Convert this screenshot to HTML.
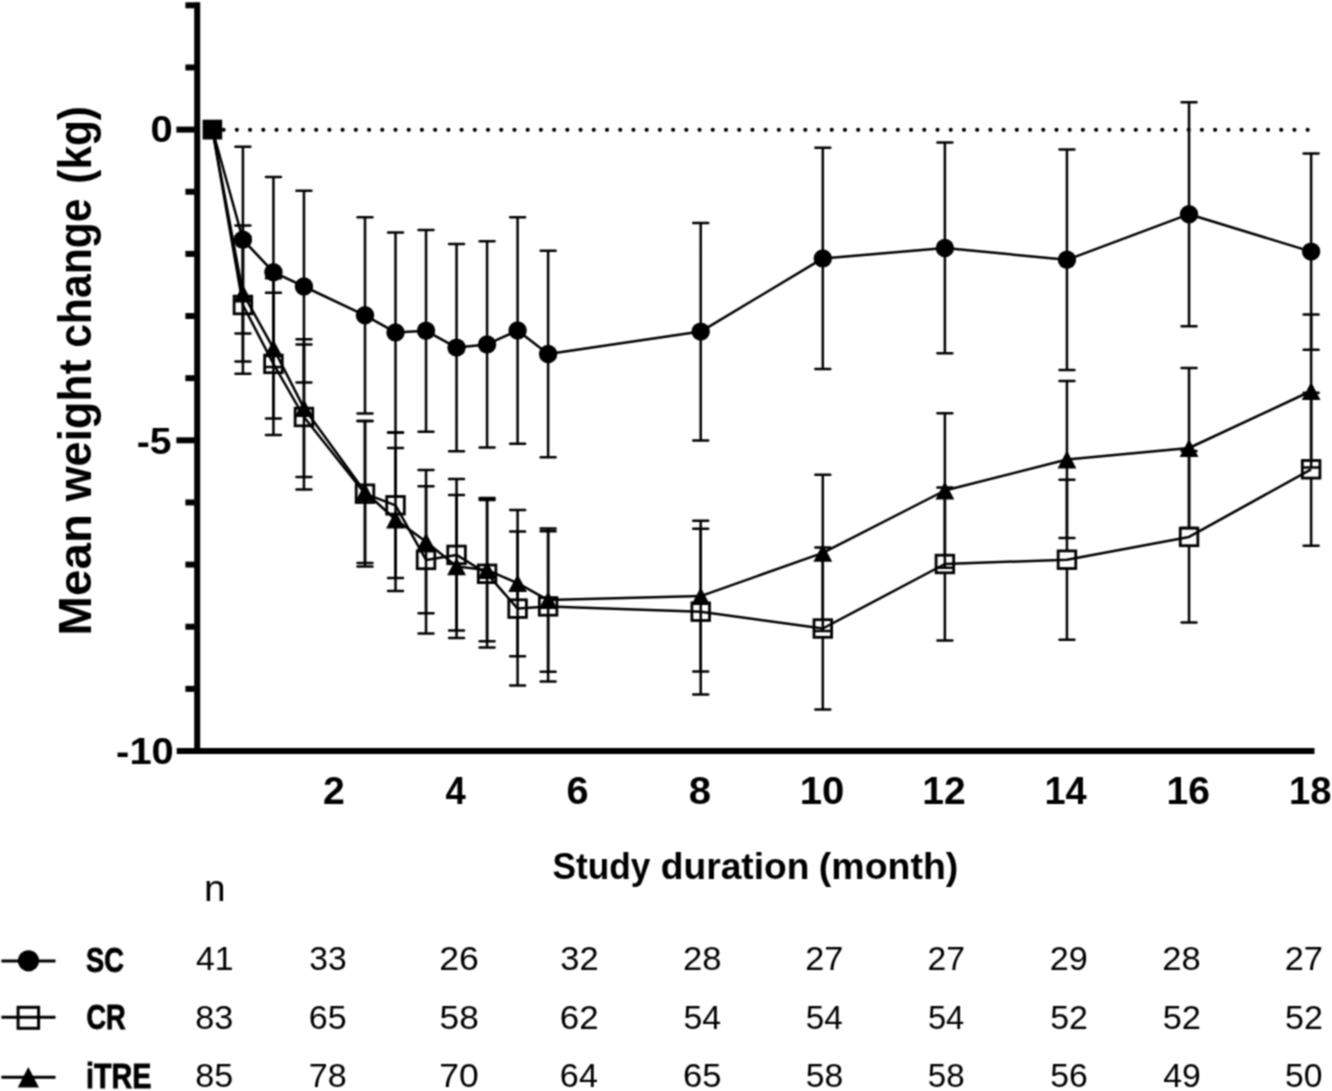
<!DOCTYPE html>
<html><head><meta charset="utf-8"><title>Mean weight change</title>
<style>html,body{margin:0;padding:0;background:#fff;}svg{display:block;filter:grayscale(1);}text{font-family:"Liberation Sans",sans-serif;fill:#000;}</style>
</head><body>
<svg width="1332" height="1091" viewBox="0 0 1332 1091">
<rect x="0" y="0" width="1332" height="1091" fill="#fff"/>
<defs><filter id="soft" x="0" y="0" width="1332" height="1091" filterUnits="userSpaceOnUse" color-interpolation-filters="sRGB"><feConvolveMatrix order="3" kernelMatrix="1 2 1 2 4 2 1 2 1" divisor="16" edgeMode="duplicate"/></filter></defs>
<g filter="url(#soft)">
<rect x="194.2" y="2.2" width="6" height="751.8" fill="#000"/>
<rect x="176.7" y="748" width="1137.8" height="6" fill="#000"/>
<rect x="185.4" y="2.32" width="9.3" height="6" fill="#000"/>
<rect x="185.4" y="64.46" width="9.3" height="6" fill="#000"/>
<rect x="176.4" y="126.6" width="18.3" height="6" fill="#000"/>
<rect x="185.4" y="188.74" width="9.3" height="6" fill="#000"/>
<rect x="185.4" y="250.88" width="9.3" height="6" fill="#000"/>
<rect x="185.4" y="313.02" width="9.3" height="6" fill="#000"/>
<rect x="185.4" y="375.16" width="9.3" height="6" fill="#000"/>
<rect x="176.4" y="437.3" width="18.3" height="6" fill="#000"/>
<rect x="185.4" y="499.44" width="9.3" height="6" fill="#000"/>
<rect x="185.4" y="561.58" width="9.3" height="6" fill="#000"/>
<rect x="185.4" y="623.72" width="9.3" height="6" fill="#000"/>
<rect x="185.4" y="685.86" width="9.3" height="6" fill="#000"/>
<text x="150.6" y="142.4" font-size="37" font-weight="bold" textLength="22.25" lengthAdjust="spacingAndGlyphs">0</text>
<text x="136.77" y="454" font-size="37" font-weight="bold" textLength="34.83" lengthAdjust="spacingAndGlyphs">-5</text>
<text x="116.14" y="763.7" font-size="37" font-weight="bold" textLength="57.71" lengthAdjust="spacingAndGlyphs">-10</text>
<text x="322.92" y="803.6" font-size="38" font-weight="bold" textLength="21.85" lengthAdjust="spacingAndGlyphs">2</text>
<text x="445.45" y="803.6" font-size="38" font-weight="bold" textLength="20.23" lengthAdjust="spacingAndGlyphs">4</text>
<text x="566.53" y="803.6" font-size="38" font-weight="bold" textLength="22.11" lengthAdjust="spacingAndGlyphs">6</text>
<text x="688.81" y="803.6" font-size="38" font-weight="bold" textLength="22.34" lengthAdjust="spacingAndGlyphs">8</text>
<text x="799.77" y="803.6" font-size="38" font-weight="bold" textLength="44.69" lengthAdjust="spacingAndGlyphs">10</text>
<text x="922.34" y="803.6" font-size="38" font-weight="bold" textLength="43.43" lengthAdjust="spacingAndGlyphs">12</text>
<text x="1044.4" y="803.6" font-size="38" font-weight="bold" textLength="42.3" lengthAdjust="spacingAndGlyphs">14</text>
<text x="1166.64" y="803.6" font-size="38" font-weight="bold" textLength="43.48" lengthAdjust="spacingAndGlyphs">16</text>
<text x="1288.99" y="803.6" font-size="38" font-weight="bold" textLength="42.5" lengthAdjust="spacingAndGlyphs">18</text>
<text x="552.58" y="878.8" font-size="37.5" font-weight="bold" textLength="97.89" lengthAdjust="spacingAndGlyphs">Study</text>
<text x="660.78" y="878.8" font-size="37.5" font-weight="bold" textLength="148.71" lengthAdjust="spacingAndGlyphs">duration</text>
<text x="818.83" y="878.8" font-size="37.5" font-weight="bold" textLength="139.44" lengthAdjust="spacingAndGlyphs">(month)</text>
<text transform="translate(90.7,635.69) rotate(-90)" x="0" y="0" font-size="47" font-weight="bold" textLength="121.65" lengthAdjust="spacingAndGlyphs">Mean</text>
<text transform="translate(90.7,501.27) rotate(-90)" x="0" y="0" font-size="47" font-weight="bold" textLength="141.88" lengthAdjust="spacingAndGlyphs">weight</text>
<text transform="translate(90.7,347.86) rotate(-90)" x="0" y="0" font-size="47" font-weight="bold" textLength="149.31" lengthAdjust="spacingAndGlyphs">change</text>
<text transform="translate(90.7,183.72) rotate(-90)" x="0" y="0" font-size="47" font-weight="bold" textLength="77.64" lengthAdjust="spacingAndGlyphs">(kg)</text>
<line x1="210.4" y1="129.8" x2="1309" y2="129.8" stroke="#000" stroke-width="4.2" stroke-linecap="round" stroke-dasharray="0 13.22"/>
<path d="M242.92 146.8V239.7M242.92 239.7V333.5M273.44 177V272.2M273.44 272.2V367M303.96 190.7V286.5M303.96 286.5V382.5M365 217.2V315.3M365 315.3V413.4M395.52 232.6V332.4M395.52 332.4V432.6M426.04 229.9V330.8M426.04 330.8V431.8M456.56 244V347.6M456.56 347.6V451.3M487.08 241.2V344.4M487.08 344.4V447.6M517.6 217.3V330.5M517.6 330.5V443.8M548.12 250.8V354M548.12 354V457.3M700.72 222.9V331.6M700.72 331.6V440.4M822.8 147.7V258.4M822.8 258.4V369M944.88 142.6V248M944.88 248V353.3M1066.96 149.5V259.8M1066.96 259.8V370M1189.04 102.2V214.2M1189.04 214.2V326.2M1311.12 153.4V251.6M1311.12 251.6V349.7" stroke="#000" stroke-width="2.5" fill="none"/><path d="M235.42 146.8H250.42M235.42 333.5H250.42M265.94 177H280.94M265.94 367H280.94M296.46 190.7H311.46M296.46 382.5H311.46M357.5 217.2H372.5M357.5 413.4H372.5M388.02 232.6H403.02M388.02 432.6H403.02M418.54 229.9H433.54M418.54 431.8H433.54M449.06 244H464.06M449.06 451.3H464.06M479.58 241.2H494.58M479.58 447.6H494.58M510.1 217.3H525.1M510.1 443.8H525.1M540.62 250.8H555.62M540.62 457.3H555.62M693.22 222.9H708.22M693.22 440.4H708.22M815.3 147.7H830.3M815.3 369H830.3M937.38 142.6H952.38M937.38 353.3H952.38M1059.46 149.5H1074.46M1059.46 370H1074.46M1181.54 102.2H1196.54M1181.54 326.2H1196.54M1303.62 153.4H1318.62M1303.62 349.7H1318.62" stroke="#000" stroke-width="2.5" stroke-linecap="round" fill="none"/>
<polyline points="212.4,129.5 242.92,239.7 273.44,272.2 303.96,286.5 365,315.3 395.52,332.4 426.04,330.8 456.56,347.6 487.08,344.4 517.6,330.5 548.12,354 700.72,331.6 822.8,258.4 944.88,248 1066.96,259.8 1189.04,214.2 1311.12,251.6" stroke="#000" stroke-width="2.5" fill="none" stroke-linejoin="round"/>
<circle cx="242.92" cy="239.7" r="9.2" fill="#000"/><circle cx="273.44" cy="272.2" r="9.2" fill="#000"/><circle cx="303.96" cy="286.5" r="9.2" fill="#000"/><circle cx="365" cy="315.3" r="9.2" fill="#000"/><circle cx="395.52" cy="332.4" r="9.2" fill="#000"/><circle cx="426.04" cy="330.8" r="9.2" fill="#000"/><circle cx="456.56" cy="347.6" r="9.2" fill="#000"/><circle cx="487.08" cy="344.4" r="9.2" fill="#000"/><circle cx="517.6" cy="330.5" r="9.2" fill="#000"/><circle cx="548.12" cy="354" r="9.2" fill="#000"/><circle cx="700.72" cy="331.6" r="9.2" fill="#000"/><circle cx="822.8" cy="258.4" r="9.2" fill="#000"/><circle cx="944.88" cy="248" r="9.2" fill="#000"/><circle cx="1066.96" cy="259.8" r="9.2" fill="#000"/><circle cx="1189.04" cy="214.2" r="9.2" fill="#000"/><circle cx="1311.12" cy="251.6" r="9.2" fill="#000"/>
<path d="M242.92 236.2V296.2M242.92 313.8V373.8M273.44 292.8V355.1M273.44 372.7V435M303.96 344.5V408.2M303.96 425.8V489.4M365 420.9V484.9M365 502.5V566.5M395.52 432.5V496.5M395.52 514.1V578.1M426.04 486.2V551.1M426.04 568.7V633.5M456.56 479.1V546.1M456.56 563.7V630.6M487.08 500V565M487.08 582.6V647.6M517.6 531.5V599.8M517.6 617.4V685.6M548.12 531.2V597.6M548.12 615.2V681.5M700.72 528.8V602.9M700.72 620.5V694.6M822.8 547.6V619.7M822.8 637.3V709.5M944.88 487.6V555.2M944.88 572.8V640.5M1066.96 479.7V550.9M1066.96 568.5V639.7M1189.04 451V528.1M1189.04 545.7V622.6M1311.12 392.8V460.5M1311.12 478.1V545.8" stroke="#000" stroke-width="2.5" fill="none"/><path d="M235.42 236.2H250.42M235.42 373.8H250.42M265.94 292.8H280.94M265.94 435H280.94M296.46 344.5H311.46M296.46 489.4H311.46M357.5 420.9H372.5M357.5 566.5H372.5M388.02 432.5H403.02M388.02 578.1H403.02M418.54 486.2H433.54M418.54 633.5H433.54M449.06 479.1H464.06M449.06 630.6H464.06M479.58 500H494.58M479.58 647.6H494.58M510.1 531.5H525.1M510.1 685.6H525.1M540.62 531.2H555.62M540.62 681.5H555.62M693.22 528.8H708.22M693.22 694.6H708.22M815.3 547.6H830.3M815.3 709.5H830.3M937.38 487.6H952.38M937.38 640.5H952.38M1059.46 479.7H1074.46M1059.46 639.7H1074.46M1181.54 451H1196.54M1181.54 622.6H1196.54M1303.62 392.8H1318.62M1303.62 545.8H1318.62" stroke="#000" stroke-width="2.5" stroke-linecap="round" fill="none"/>
<polyline points="212.4,129.5 242.92,305 273.44,363.9 303.96,417 365,493.7 395.52,505.3 426.04,559.9 456.56,554.9 487.08,573.8 517.6,608.6 548.12,606.4 700.72,611.7 822.8,628.5 944.88,564 1066.96,559.7 1189.04,536.9 1311.12,469.3" stroke="#000" stroke-width="2.5" fill="none" stroke-linejoin="round"/>
<rect x="234.12" y="296.2" width="17.6" height="17.6" fill="none" stroke="#000" stroke-width="2.8"/><rect x="264.64" y="355.1" width="17.6" height="17.6" fill="none" stroke="#000" stroke-width="2.8"/><rect x="295.16" y="408.2" width="17.6" height="17.6" fill="none" stroke="#000" stroke-width="2.8"/><rect x="356.2" y="484.9" width="17.6" height="17.6" fill="none" stroke="#000" stroke-width="2.8"/><rect x="386.72" y="496.5" width="17.6" height="17.6" fill="none" stroke="#000" stroke-width="2.8"/><rect x="417.24" y="551.1" width="17.6" height="17.6" fill="none" stroke="#000" stroke-width="2.8"/><rect x="447.76" y="546.1" width="17.6" height="17.6" fill="none" stroke="#000" stroke-width="2.8"/><rect x="478.28" y="565" width="17.6" height="17.6" fill="none" stroke="#000" stroke-width="2.8"/><rect x="508.8" y="599.8" width="17.6" height="17.6" fill="none" stroke="#000" stroke-width="2.8"/><rect x="539.32" y="597.6" width="17.6" height="17.6" fill="none" stroke="#000" stroke-width="2.8"/><rect x="691.92" y="602.9" width="17.6" height="17.6" fill="none" stroke="#000" stroke-width="2.8"/><rect x="814" y="619.7" width="17.6" height="17.6" fill="none" stroke="#000" stroke-width="2.8"/><rect x="936.08" y="555.2" width="17.6" height="17.6" fill="none" stroke="#000" stroke-width="2.8"/><rect x="1058.16" y="550.9" width="17.6" height="17.6" fill="none" stroke="#000" stroke-width="2.8"/><rect x="1180.24" y="528.1" width="17.6" height="17.6" fill="none" stroke="#000" stroke-width="2.8"/><rect x="1302.32" y="460.5" width="17.6" height="17.6" fill="none" stroke="#000" stroke-width="2.8"/>
<path d="M242.92 225.5V293.5M242.92 293.5V361.4M273.44 278.2V348.3M273.44 348.3V418.5M303.96 339.2V408.1M303.96 408.1V477M365 421V492M365 492V563M395.52 448V519.5M395.52 519.5V591M426.04 470.1V541.7M426.04 541.7V613.3M456.56 494.9V566.4M456.56 566.4V637.9M487.08 498V570M487.08 570V641.2M517.6 510.1V583.2M517.6 583.2V656.2M548.12 528.4V600.1M548.12 600.1V671.8M700.72 520.8V596.1M700.72 596.1V671.4M822.8 474.8V552.9M822.8 552.9V631M944.88 413.3V490.5M944.88 490.5V567.7M1066.96 381V459.5M1066.96 459.5V538M1189.04 368.1V448M1189.04 448V528M1311.12 314.6V391M1311.12 391V467.4" stroke="#000" stroke-width="2.5" fill="none"/><path d="M235.42 225.5H250.42M235.42 361.4H250.42M265.94 278.2H280.94M265.94 418.5H280.94M296.46 339.2H311.46M296.46 477H311.46M357.5 421H372.5M357.5 563H372.5M388.02 448H403.02M388.02 591H403.02M418.54 470.1H433.54M418.54 613.3H433.54M449.06 494.9H464.06M449.06 637.9H464.06M479.58 498H494.58M479.58 641.2H494.58M510.1 510.1H525.1M510.1 656.2H525.1M540.62 528.4H555.62M540.62 671.8H555.62M693.22 520.8H708.22M693.22 671.4H708.22M815.3 474.8H830.3M815.3 631H830.3M937.38 413.3H952.38M937.38 567.7H952.38M1059.46 381H1074.46M1059.46 538H1074.46M1181.54 368.1H1196.54M1181.54 528H1196.54M1303.62 314.6H1318.62M1303.62 467.4H1318.62" stroke="#000" stroke-width="2.5" stroke-linecap="round" fill="none"/>
<polyline points="212.4,129.5 242.92,293.5 273.44,348.3 303.96,408.1 365,492 395.52,519.5 426.04,541.7 456.56,566.4 487.08,570 517.6,583.2 548.12,600.1 700.72,596.1 822.8,552.9 944.88,490.5 1066.96,459.5 1189.04,448 1311.12,391" stroke="#000" stroke-width="2.5" fill="none" stroke-linejoin="round"/>
<path d="M242.92 284.6L252.32 302.4L233.52 302.4Z" fill="#000"/><path d="M273.44 339.4L282.84 357.2L264.04 357.2Z" fill="#000"/><path d="M303.96 399.2L313.36 417L294.56 417Z" fill="#000"/><path d="M365 483.1L374.4 500.9L355.6 500.9Z" fill="#000"/><path d="M395.52 510.6L404.92 528.4L386.12 528.4Z" fill="#000"/><path d="M426.04 532.8L435.44 550.6L416.64 550.6Z" fill="#000"/><path d="M456.56 557.5L465.96 575.3L447.16 575.3Z" fill="#000"/><path d="M487.08 561.1L496.48 578.9L477.68 578.9Z" fill="#000"/><path d="M517.6 574.3L527 592.1L508.2 592.1Z" fill="#000"/><path d="M548.12 591.2L557.52 609L538.72 609Z" fill="#000"/><path d="M700.72 587.2L710.12 605L691.32 605Z" fill="#000"/><path d="M822.8 544L832.2 561.8L813.4 561.8Z" fill="#000"/><path d="M944.88 481.6L954.28 499.4L935.48 499.4Z" fill="#000"/><path d="M1066.96 450.6L1076.36 468.4L1057.56 468.4Z" fill="#000"/><path d="M1189.04 439.1L1198.44 456.9L1179.64 456.9Z" fill="#000"/><path d="M1311.12 382.1L1320.52 399.9L1301.72 399.9Z" fill="#000"/>
<rect x="202.6" y="119.7" width="19.6" height="19.8" fill="#000"/>
<text x="203.94" y="900.5" font-size="36" textLength="21.59" lengthAdjust="spacingAndGlyphs">n</text>
<text x="196.02" y="969.5" font-size="34" textLength="37.54" lengthAdjust="spacingAndGlyphs">41</text>
<text x="309.22" y="969.5" font-size="34" textLength="37.47" lengthAdjust="spacingAndGlyphs">33</text>
<text x="439.22" y="969.5" font-size="34" textLength="39.66" lengthAdjust="spacingAndGlyphs">26</text>
<text x="560.29" y="969.5" font-size="34" textLength="38.34" lengthAdjust="spacingAndGlyphs">32</text>
<text x="683.07" y="969.5" font-size="34" textLength="38.53" lengthAdjust="spacingAndGlyphs">28</text>
<text x="805.29" y="969.5" font-size="34" textLength="38.14" lengthAdjust="spacingAndGlyphs">27</text>
<text x="927.52" y="969.5" font-size="34" textLength="37.48" lengthAdjust="spacingAndGlyphs">27</text>
<text x="1049.79" y="969.5" font-size="34" textLength="38.03" lengthAdjust="spacingAndGlyphs">29</text>
<text x="1162.37" y="969.5" font-size="34" textLength="38.42" lengthAdjust="spacingAndGlyphs">28</text>
<text x="1284.68" y="969.5" font-size="34" textLength="38.25" lengthAdjust="spacingAndGlyphs">27</text>
<text x="195.33" y="1028.5" font-size="34" textLength="38.09" lengthAdjust="spacingAndGlyphs">83</text>
<text x="308.76" y="1028.5" font-size="34" textLength="37.88" lengthAdjust="spacingAndGlyphs">65</text>
<text x="439.59" y="1028.5" font-size="34" textLength="39.24" lengthAdjust="spacingAndGlyphs">58</text>
<text x="559.82" y="1028.5" font-size="34" textLength="38.84" lengthAdjust="spacingAndGlyphs">62</text>
<text x="683.45" y="1028.5" font-size="34" textLength="37.65" lengthAdjust="spacingAndGlyphs">54</text>
<text x="805.67" y="1028.5" font-size="34" textLength="37.01" lengthAdjust="spacingAndGlyphs">54</text>
<text x="927.89" y="1028.5" font-size="34" textLength="36.37" lengthAdjust="spacingAndGlyphs">54</text>
<text x="1050.14" y="1028.5" font-size="34" textLength="37.77" lengthAdjust="spacingAndGlyphs">52</text>
<text x="1162.72" y="1028.5" font-size="34" textLength="38.31" lengthAdjust="spacingAndGlyphs">52</text>
<text x="1285.04" y="1028.5" font-size="34" textLength="37.88" lengthAdjust="spacingAndGlyphs">52</text>
<text x="195.33" y="1087.4" font-size="34" textLength="38.02" lengthAdjust="spacingAndGlyphs">85</text>
<text x="308.76" y="1087.4" font-size="34" textLength="37.91" lengthAdjust="spacingAndGlyphs">78</text>
<text x="439.19" y="1087.4" font-size="34" textLength="39.51" lengthAdjust="spacingAndGlyphs">70</text>
<text x="559.86" y="1087.4" font-size="34" textLength="38.05" lengthAdjust="spacingAndGlyphs">64</text>
<text x="683.03" y="1087.4" font-size="34" textLength="38.53" lengthAdjust="spacingAndGlyphs">65</text>
<text x="805.65" y="1087.4" font-size="34" textLength="37.51" lengthAdjust="spacingAndGlyphs">58</text>
<text x="927.87" y="1087.4" font-size="34" textLength="36.86" lengthAdjust="spacingAndGlyphs">58</text>
<text x="1050.15" y="1087.4" font-size="34" textLength="37.55" lengthAdjust="spacingAndGlyphs">56</text>
<text x="1163.32" y="1087.4" font-size="34" textLength="37.58" lengthAdjust="spacingAndGlyphs">49</text>
<text x="1285.05" y="1087.4" font-size="34" textLength="37.47" lengthAdjust="spacingAndGlyphs">50</text>
<path d="M1.4 961H55.5M1.4 1017.3H55.5M1.4 1077.3H55.5" stroke="#000" stroke-width="3" fill="none"/>
<circle cx="28.5" cy="960.8" r="10.6" fill="#000"/>
<rect x="18.1" y="1007.3" width="20.5" height="21" fill="none" stroke="#000" stroke-width="3"/>
<path d="M28.3 1067.1L39 1087.5L17.8 1087.5Z" fill="#000"/>
<text x="86.11" y="971.9" font-size="34.5" font-weight="bold" textLength="37.93" lengthAdjust="spacingAndGlyphs" stroke="#000" stroke-width="0.8">SC</text>
<text x="86.38" y="1029.2" font-size="34.5" font-weight="bold" textLength="39.3" lengthAdjust="spacingAndGlyphs" stroke="#000" stroke-width="0.8">CR</text>
<text x="86.09" y="1088.3" font-size="34.5" font-weight="bold" textLength="65.43" lengthAdjust="spacingAndGlyphs" stroke="#000" stroke-width="0.8">iTRE</text>
</g>
</svg>
</body></html>
